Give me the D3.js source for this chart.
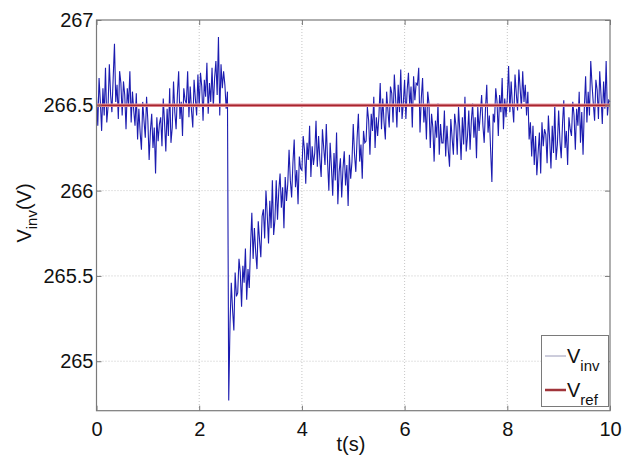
<!DOCTYPE html>
<html><head><meta charset="utf-8">
<script src="https://cdn.jsdelivr.net/npm/d3@7"></script>
<style>body{margin:0;background:#fff}svg{display:block}text{font-family:"Liberation Sans",Arial,sans-serif;fill:#111}</style>
</head><body><svg id="c" width="623" height="456"></svg>
<script>
// ---- data ----
const sampleStep = 0.025; // s between samples
const vInv = [
266.55,266.38,266.66,266.52,266.35,266.60,266.44,266.72,266.40,266.49,
266.74,266.56,266.46,266.66,266.86,266.52,266.62,266.42,266.70,266.63,
266.44,266.64,266.56,266.36,266.60,266.50,266.70,266.40,266.58,266.47,
266.38,266.57,266.30,266.48,266.34,266.24,266.52,266.41,266.31,266.55,
266.41,266.18,266.35,266.45,266.25,266.37,266.10,266.43,266.29,266.39,
266.43,266.26,266.54,266.40,266.23,266.48,266.32,266.60,266.28,266.37,
266.64,266.46,266.36,266.56,266.70,266.42,266.52,266.32,266.60,266.53,
266.51,266.70,266.43,266.61,266.47,266.37,266.65,266.54,266.44,266.68,
266.49,266.69,266.61,266.41,266.65,266.55,266.75,266.45,266.63,266.52,
266.72,266.49,266.66,266.76,266.56,266.90,266.44,266.74,266.60,266.70,
266.62,266.48,266.58,264.77,265.22,265.46,265.30,265.18,265.52,265.38,
265.40,265.60,265.52,265.32,265.56,265.46,265.66,265.36,265.54,265.43,
265.68,265.87,265.60,265.78,265.64,265.54,265.82,265.71,265.61,265.85,
265.89,265.72,266.00,265.86,265.69,265.94,265.78,266.06,265.74,265.83,
266.06,265.83,266.00,266.10,265.90,266.02,265.78,266.08,265.94,266.04,
266.24,266.06,265.96,266.16,266.30,266.02,266.12,265.92,266.20,266.13,
266.12,266.32,266.24,266.04,266.28,266.18,266.38,266.08,266.26,266.15,
266.22,266.41,266.14,266.32,266.18,266.08,266.36,266.25,266.15,266.39,
266.17,266.00,266.28,266.14,265.97,266.22,266.06,266.34,265.92,266.11,
266.19,265.96,266.13,266.23,266.03,266.15,265.91,266.21,266.07,266.17,
266.39,266.21,266.11,266.31,266.45,266.17,266.27,266.07,266.35,266.28,
266.29,266.49,266.41,266.21,266.45,266.35,266.55,266.25,266.43,266.32,
266.44,266.63,266.36,266.54,266.40,266.30,266.58,266.47,266.37,266.61,
266.57,266.40,266.68,266.54,266.37,266.62,266.46,266.71,266.42,266.51,
266.65,266.42,266.59,266.69,266.49,266.61,266.37,266.67,266.53,266.63,
266.62,266.72,266.34,266.54,266.66,266.40,266.50,266.30,266.58,266.51,
266.25,266.45,266.37,266.17,266.41,266.31,266.51,266.21,266.39,266.28,
266.28,266.47,266.20,266.38,266.24,266.14,266.42,266.31,266.21,266.45,
266.38,266.21,266.49,266.35,266.18,266.43,266.27,266.55,266.23,266.32,
266.47,266.24,266.41,266.51,266.31,266.43,266.19,266.49,266.35,266.45,
266.56,266.38,266.28,266.48,266.62,266.34,266.44,266.24,266.05,266.45,
266.40,266.60,266.52,266.32,266.56,266.46,266.66,266.36,266.54,266.43,
266.54,266.73,266.46,266.64,266.50,266.40,266.68,266.57,266.47,266.71,
266.60,266.48,266.70,266.52,266.62,266.44,266.58,266.30,266.40,266.20,
266.38,266.15,266.32,266.09,266.22,266.34,266.10,266.40,266.26,266.36,
266.33,266.16,266.44,266.30,266.13,266.38,266.22,266.50,266.18,266.27,
266.47,266.29,266.19,266.39,266.53,266.25,266.35,266.15,266.43,266.36,
266.32,266.52,266.44,266.24,266.48,266.38,266.58,266.28,266.46,266.21,
266.48,266.67,266.40,266.58,266.44,266.76,266.62,266.51,266.41,266.65,
266.59,266.42,266.70,266.56,266.39,266.64,266.48,266.76,266.44,266.53,
266.52];
const vRef = 266.5;
const xTicks = [0, 2, 4, 6, 8, 10];
const yTicks = [265, 265.5, 266, 266.5, 267];
const yTickLabels = ["265", "265.5", "266", "266.5", "267"];
const xDomain = [0, 10];
const yDomain = [264.71, 267];

// ---- layout ----
const L = 96.5, R = 610, T = 20, B = 410.7;
const svg = d3.select("#c");
const x = d3.scaleLinear().domain(xDomain).range([L, R]);
const y = d3.scaleLinear().domain(yDomain).range([B, T]);

// grid
const grid = svg.append("g").attr("stroke", "#b8b8b8").attr("stroke-width", 0.8).attr("stroke-dasharray", "1,2");
grid.selectAll(".gx").data(xTicks.filter(d => d > xDomain[0] && d < xDomain[1])).join("line")
  .attr("x1", d => x(d)).attr("x2", d => x(d)).attr("y1", T).attr("y2", B);
grid.selectAll(".gy").data(yTicks.filter(d => d < yDomain[1])).join("line")
  .attr("y1", d => y(d)).attr("y2", d => y(d)).attr("x1", L).attr("x2", R);

// data line
const line = d3.line().x((d, i) => x(i * sampleStep)).y(d => y(d));
svg.append("path").datum(vInv).attr("d", line).attr("fill", "none")
  .attr("stroke", "#1c1cb0").attr("stroke-width", 1.1).attr("stroke-linejoin", "miter");

// ref line
svg.append("line").attr("x1", x(xDomain[0])).attr("x2", x(xDomain[1]))
  .attr("y1", y(vRef)).attr("y2", y(vRef)).attr("stroke", "#e8a0a8").attr("stroke-width", 3.5);
svg.append("line").attr("x1", x(xDomain[0])).attr("x2", x(xDomain[1]))
  .attr("y1", y(vRef)).attr("y2", y(vRef)).attr("stroke", "#a8262e").attr("stroke-width", 1.8);

// axes
const axX = d3.axisBottom(x).tickValues(xTicks).tickSize(-5).tickPadding(11).tickFormat(d3.format("d"));
const axXt = d3.axisTop(x).tickValues(xTicks).tickSize(-5).tickFormat("");
const axY = d3.axisLeft(y).tickValues(yTicks).tickSize(-5).tickPadding(3).tickFormat((d, i) => yTickLabels[i]);
const axYr = d3.axisRight(y).tickValues(yTicks).tickSize(-5).tickFormat("");
function styleAx(g) {
  g.select(".domain").remove();
  g.selectAll(".tick line").attr("stroke", "#777").attr("stroke-width", 1);
  g.selectAll("text").attr("font-size", 20).attr("fill", "#111").attr("font-family", "Liberation Sans, Arial, sans-serif");
}
svg.append("g").attr("transform", `translate(0,${B})`).call(axX).call(styleAx);
svg.append("g").attr("transform", `translate(0,${T})`).call(axXt).call(styleAx);
svg.append("g").attr("transform", `translate(${L},0)`).call(axY).call(styleAx);
svg.append("g").attr("transform", `translate(${R},0)`).call(axYr).call(styleAx);
svg.append("rect").attr("x", L).attr("y", T).attr("width", R - L).attr("height", B - T)
  .attr("fill", "none").attr("stroke", "#7a7a7a").attr("stroke-width", 1.2);

// axis labels
svg.append("text").attr("x", 351).attr("y", 451).attr("text-anchor", "middle").attr("font-size", 20).text("t(s)");
const yl = svg.append("text").attr("transform", "translate(31,213) rotate(-90)").attr("text-anchor", "middle").attr("font-size", 20);
yl.append("tspan").text("V");
yl.append("tspan").attr("font-size", 15).attr("dy", 6).text("inv");
yl.append("tspan").attr("dy", -6).text("(V)");

// legend
const lg = svg.append("g");
lg.append("rect").attr("x", 541.5).attr("y", 335.5).attr("width", 67).attr("height", 71)
  .attr("fill", "#fff").attr("stroke", "#7a7a7a").attr("stroke-width", 1);
const items = [{name: "inv", color: "#9a9ab8", w: 1, yy: 356}, {name: "ref", color: "#a0343a", w: 2.5, yy: 390}];
items.forEach(it => {
  lg.append("line").attr("x1", 545).attr("x2", 566).attr("y1", it.yy).attr("y2", it.yy)
    .attr("stroke", it.color).attr("stroke-width", it.w);
  const t = lg.append("text").attr("x", 567).attr("y", it.yy + 7).attr("font-size", 20);
  t.append("tspan").text("V");
  t.append("tspan").attr("font-size", 15).attr("dy", 8).text(it.name);
});
</script></body></html>
